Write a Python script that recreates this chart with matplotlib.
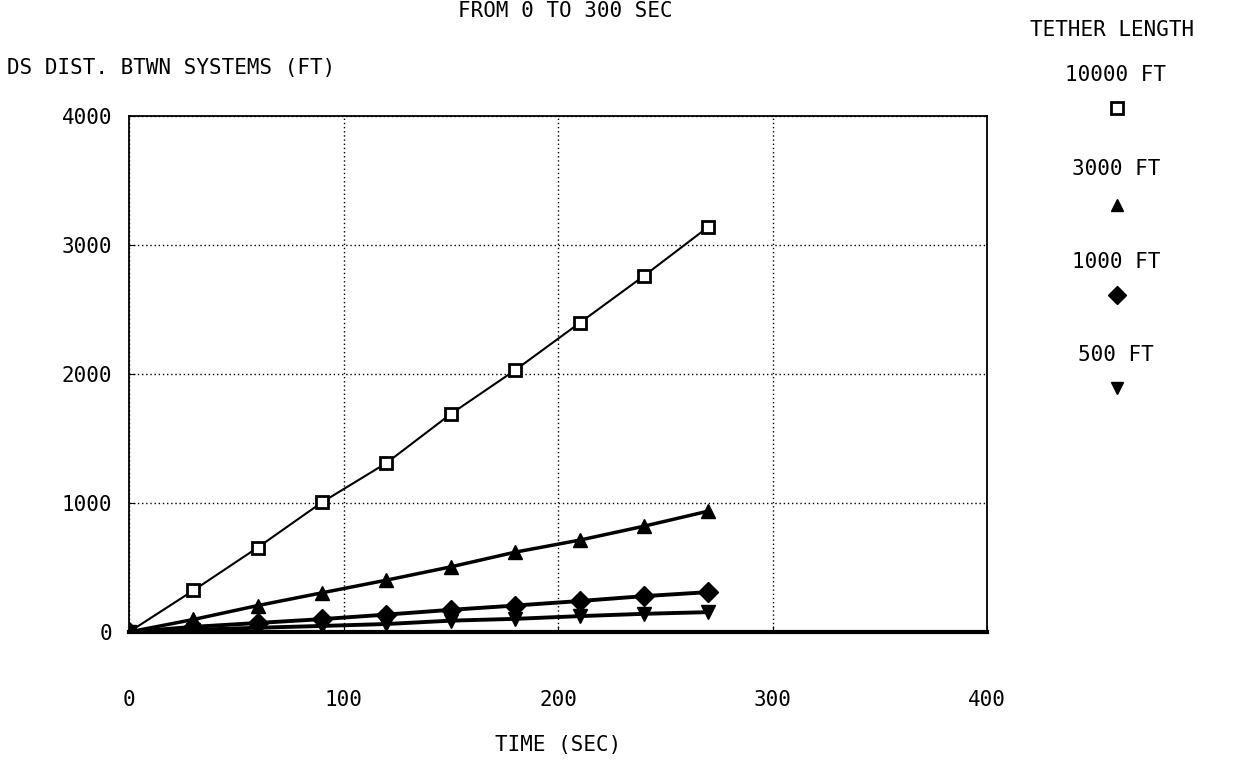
import matplotlib.pyplot as plt
from matplotlib.lines import Line2D

# time points (sec) and separation distance (ft) per tether length
time_sec = [0, 30, 60, 90, 120, 150, 180, 210, 240, 270]
dist_10000 = [0, 322, 655, 1006, 1310, 1690, 2030, 2395, 2760, 3140]
dist_3000 = [0, 97, 205, 304, 402, 505, 619, 712, 820, 937]
dist_1000 = [0, 40, 70, 100, 135, 172, 205, 240, 278, 309]
dist_500 = [0, 17, 33, 47, 62, 88, 102, 123, 141, 154]

legend_labels = ['10000 FT', '3000 FT', '1000 FT', '500 FT']
markers = ['s', '^', 'D', 'v']
x_ticks = [0, 100, 200, 300, 400]
y_ticks = [0, 1000, 2000, 3000, 4000]

plt.rcParams['font.family'] = 'DejaVu Sans Mono'
fs = 15

fig = plt.figure(figsize=(12.37, 7.62), dpi=100)
ax = fig.add_axes([0.1043, 0.1706, 0.6937, 0.6772])

ax.plot(time_sec, dist_10000, color='black', lw=1.5, marker='s', ms=9,
        mfc='white', mec='black', mew=2, zorder=3)
ax.plot(time_sec, dist_3000, color='black', lw=2.5, marker='^', ms=10, zorder=3)
ax.plot(time_sec, dist_1000, color='black', lw=2.8, marker='D', ms=10, zorder=3)
ax.plot(time_sec, dist_500, color='black', lw=2.8, marker='v', ms=10, zorder=3)

ax.set_xlim(0, 400)
ax.set_ylim(0, 4000)
ax.set_xticks(x_ticks)
ax.set_yticks(y_ticks)
ax.tick_params(axis='x', direction='in', length=4, pad=42, labelsize=fs)
ax.tick_params(axis='y', direction='in', length=4, pad=12, labelsize=fs)
ax.grid(True, color='black', linestyle=(0, (1, 2)), lw=1)

for side in ['top', 'left', 'right']:
    ax.spines[side].set_linewidth(1.3)
ax.spines['bottom'].set_linewidth(3)

ax.set_xlabel('TIME (SEC)', fontsize=fs, labelpad=18)

fig.text(0.006, 0.911, 'DS DIST. BTWN SYSTEMS (FT)', fontsize=fs, ha='left', va='center')
fig.text(0.457, 0.999, 'FROM 0 TO 300 SEC', fontsize=fs, ha='center', va='top')

# legend drawn as stacked labels with marker below each
fig.text(0.899, 0.960, 'TETHER LENGTH', fontsize=fs, ha='center', va='center')
label_y = [0.902, 0.778, 0.656, 0.534]
marker_y = [0.858, 0.731, 0.613, 0.491]
for lab, m, ly, my in zip(legend_labels, markers, label_y, marker_y):
    fig.text(0.902, ly, lab, fontsize=fs, ha='center', va='center')
    if m == 's':
        mk = Line2D([0.903], [my], marker='s', ms=8, mfc='white', mec='black',
                    mew=2, ls='none', transform=fig.transFigure)
    else:
        mk = Line2D([0.903], [my], marker=m, ms=9, color='black', ls='none',
                    transform=fig.transFigure)
    fig.add_artist(mk)

fig.savefig('out.png', dpi=100)
